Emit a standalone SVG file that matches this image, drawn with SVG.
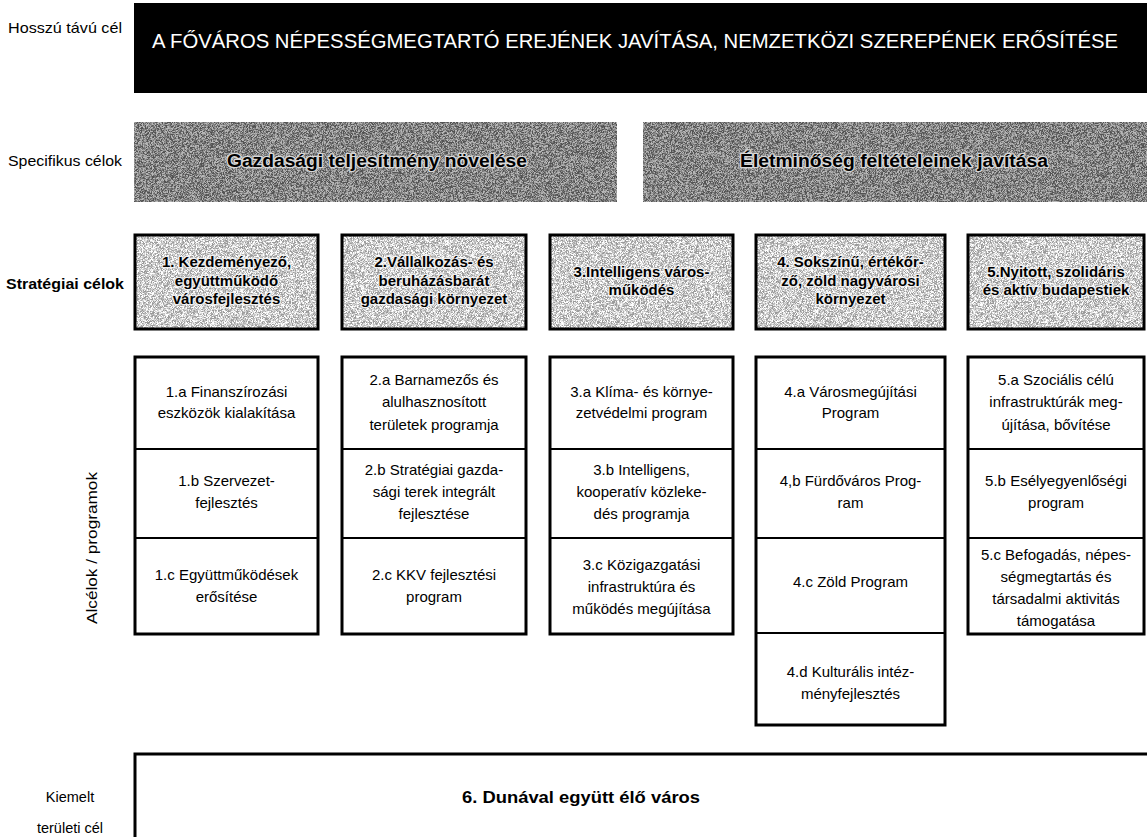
<svg xmlns="http://www.w3.org/2000/svg" width="1147" height="837" viewBox="0 0 1147 837">
<defs>
<filter id="grain" x="0" y="0" width="1" height="1" color-interpolation-filters="sRGB">
<feTurbulence type="fractalNoise" baseFrequency="2.2" numOctaves="1" seed="5" result="n"/>
<feColorMatrix in="n" type="matrix" values="4 0 0 0 -1.5  4 0 0 0 -1.5  4 0 0 0 -1.5  0 0 0 0 1" result="g"/>
<feComposite in="SourceGraphic" in2="g" operator="arithmetic" k1="0" k2="1" k3="0.4" k4="-0.2"/>
</filter>
<style>
text{font-family:"Liberation Sans",Arial,sans-serif;fill:#000}
.lbl{font-size:14.5px}
.lblb{font-size:14.5px;font-weight:bold}
.head{font-size:19.5px;fill:#fff}
.spec{font-size:18px;font-weight:bold;text-anchor:middle;stroke:#d8d8d8;stroke-width:2.5px;paint-order:stroke;stroke-linejoin:round}
.strat{font-size:15px;font-weight:bold;text-anchor:middle;stroke:#f0f0f0;stroke-width:2.5px;paint-order:stroke;stroke-linejoin:round}
.sub{font-size:15px;text-anchor:middle}
.big{font-size:17px;font-weight:bold;text-anchor:middle}
.darkfill{fill:#858585;filter:url(#grain)}
.lightfill{fill:#cdcdcd;filter:url(#grain)}
.frame{fill:none;stroke:#000;stroke-width:3}
.box{fill:#fff;stroke:#000;stroke-width:3}
.div{stroke:#000;stroke-width:2}
</style>
</defs>
<rect width="1147" height="837" fill="#fff"/>

<g id="row-labels">
<text class="lbl" x="8" y="33" textLength="114" lengthAdjust="spacingAndGlyphs">Hosszú távú cél</text>
<text class="lbl" x="8" y="166" textLength="114" lengthAdjust="spacingAndGlyphs">Specifikus célok</text>
<text class="lblb" x="6" y="289" textLength="118" lengthAdjust="spacingAndGlyphs">Stratégiai célok</text>
<text class="lbl" x="0" y="0" text-anchor="middle" style="font-size:15.5px" textLength="152" lengthAdjust="spacingAndGlyphs" transform="translate(97 548) rotate(-90)">Alcélok / programok</text>
<text class="lbl" x="70" y="802" text-anchor="middle">Kiemelt</text>
<text class="lbl" x="70" y="833" text-anchor="middle">területi cél</text>
</g>

<g id="long-term-goal">
<rect x="134" y="3" width="1013" height="90" fill="#000"/>
<text class="head" x="152" y="48" textLength="966" lengthAdjust="spacingAndGlyphs">A FŐVÁROS NÉPESSÉGMEGTARTÓ EREJÉNEK JAVÍTÁSA, NEMZETKÖZI SZEREPÉNEK ERŐSÍTÉSE</text>
</g>

<g id="specific-goal-1">
<rect class="darkfill" x="134" y="122" width="483" height="80"/>
<text class="spec" x="377" y="167" textLength="300" lengthAdjust="spacingAndGlyphs">Gazdasági teljesítmény növelése</text>
</g>
<g id="specific-goal-2">
<rect class="darkfill" x="643" y="122" width="504" height="80"/>
<text class="spec" x="894" y="167" textLength="308" lengthAdjust="spacingAndGlyphs">Életminőség feltételeinek javítása</text>
</g>

<g id="strategic-goal-1">
<rect class="lightfill" x="135" y="235" width="183" height="94"/>
<rect class="frame" x="135" y="235" width="183" height="94"/>
<text class="strat" x="226.5" y="267">1. Kezdeményező,</text>
<text class="strat" x="226.5" y="286">együttműködő</text>
<text class="strat" x="226.5" y="304">városfejlesztés</text>
</g>
<g id="strategic-goal-2">
<rect class="lightfill" x="342" y="235" width="184" height="94"/>
<rect class="frame" x="342" y="235" width="184" height="94"/>
<text class="strat" x="434" y="267">2.Vállalkozás- és</text>
<text class="strat" x="434" y="286">beruházásbarát</text>
<text class="strat" x="434" y="304">gazdasági környezet</text>
</g>
<g id="strategic-goal-3">
<rect class="lightfill" x="550" y="235" width="183" height="94"/>
<rect class="frame" x="550" y="235" width="183" height="94"/>
<text class="strat" x="641.5" y="277">3.Intelligens város-</text>
<text class="strat" x="641.5" y="295">működés</text>
</g>
<g id="strategic-goal-4">
<rect class="lightfill" x="756" y="235" width="189" height="94"/>
<rect class="frame" x="756" y="235" width="189" height="94"/>
<text class="strat" x="850.5" y="267">4. Sokszínű, értékőr-</text>
<text class="strat" x="850.5" y="286">ző, zöld nagyvárosi</text>
<text class="strat" x="850.5" y="304">környezet</text>
</g>
<g id="strategic-goal-5">
<rect class="lightfill" x="968" y="235" width="176" height="94"/>
<rect class="frame" x="968" y="235" width="176" height="94"/>
<text class="strat" x="1056" y="277">5.Nyitott, szolidáris</text>
<text class="strat" x="1056" y="295">és aktív budapestiek</text>
</g>

<g id="subgoals-1">
<rect class="box" x="135" y="357" width="183" height="277"/>
<line class="div" x1="135" y1="449" x2="318" y2="449"/>
<line class="div" x1="135" y1="538" x2="318" y2="538"/>
<text class="sub" x="226.5" y="397">1.a Finanszírozási</text>
<text class="sub" x="226.5" y="418">eszközök kialakítása</text>
<text class="sub" x="226.5" y="486">1.b Szervezet-</text>
<text class="sub" x="226.5" y="508">fejlesztés</text>
<text class="sub" x="226.5" y="580">1.c Együttműködések</text>
<text class="sub" x="226.5" y="602">erősítése</text>
</g>
<g id="subgoals-2">
<rect class="box" x="342" y="357" width="184" height="277"/>
<line class="div" x1="342" y1="449" x2="526" y2="449"/>
<line class="div" x1="342" y1="538" x2="526" y2="538"/>
<text class="sub" x="434" y="385">2.a Barnamezős és</text>
<text class="sub" x="434" y="407">alulhasznosított</text>
<text class="sub" x="434" y="430">területek programja</text>
<text class="sub" x="434" y="475">2.b Stratégiai gazda-</text>
<text class="sub" x="434" y="497">sági terek integrált</text>
<text class="sub" x="434" y="519">fejlesztése</text>
<text class="sub" x="434" y="580">2.c KKV fejlesztési</text>
<text class="sub" x="434" y="602">program</text>
</g>
<g id="subgoals-3">
<rect class="box" x="550" y="357" width="183" height="277"/>
<line class="div" x1="550" y1="449" x2="733" y2="449"/>
<line class="div" x1="550" y1="538" x2="733" y2="538"/>
<text class="sub" x="641.5" y="397">3.a Klíma- és környe-</text>
<text class="sub" x="641.5" y="418">zetvédelmi program</text>
<text class="sub" x="641.5" y="475">3.b Intelligens,</text>
<text class="sub" x="641.5" y="497">kooperatív közleke-</text>
<text class="sub" x="641.5" y="519">dés programja</text>
<text class="sub" x="641.5" y="570">3.c Közigazgatási</text>
<text class="sub" x="641.5" y="592">infrastruktúra és</text>
<text class="sub" x="641.5" y="614">működés megújítása</text>
</g>
<g id="subgoals-4">
<rect class="box" x="756" y="357" width="189" height="368"/>
<line class="div" x1="756" y1="449" x2="945" y2="449"/>
<line class="div" x1="756" y1="538" x2="945" y2="538"/>
<line class="div" x1="756" y1="633" x2="945" y2="633"/>
<text class="sub" x="850.5" y="397">4.a Városmegújítási</text>
<text class="sub" x="850.5" y="418">Program</text>
<text class="sub" x="850.5" y="486">4,b Fürdőváros Prog-</text>
<text class="sub" x="850.5" y="508">ram</text>
<text class="sub" x="850.5" y="587">4.c Zöld Program</text>
<text class="sub" x="850.5" y="677">4.d Kulturális intéz-</text>
<text class="sub" x="850.5" y="699">ményfejlesztés</text>
</g>
<g id="subgoals-5">
<rect class="box" x="968" y="357" width="176" height="277"/>
<line class="div" x1="968" y1="449" x2="1144" y2="449"/>
<line class="div" x1="968" y1="538" x2="1144" y2="538"/>
<text class="sub" x="1056" y="385">5.a Szociális célú</text>
<text class="sub" x="1056" y="407">infrastruktúrák meg-</text>
<text class="sub" x="1056" y="430">újítása, bővítése</text>
<text class="sub" x="1056" y="486">5.b Esélyegyenlőségi</text>
<text class="sub" x="1056" y="508">program</text>
<text class="sub" x="1056" y="560">5.c Befogadás, népes-</text>
<text class="sub" x="1056" y="582">ségmegtartás és</text>
<text class="sub" x="1056" y="604">társadalmi aktivitás</text>
<text class="sub" x="1056" y="626">támogatása</text>
</g>

<g id="territorial-goal">
<rect class="box" x="135" y="754" width="1020" height="95"/>
<text class="big" x="581" y="803" textLength="238" lengthAdjust="spacingAndGlyphs">6. Dunával együtt élő város</text>
</g>

<g id="connectors"/>
</svg>
